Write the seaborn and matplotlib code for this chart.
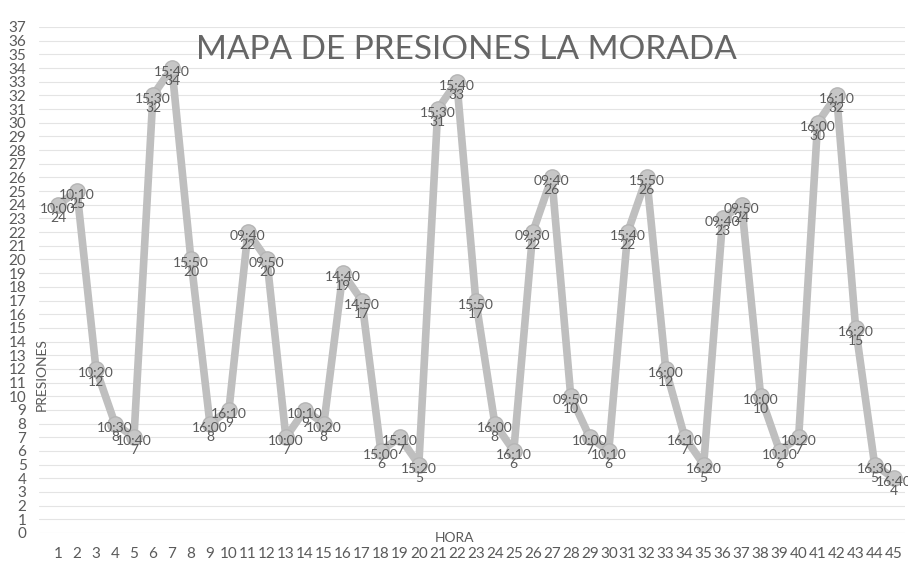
import matplotlib
matplotlib.use("Agg")
import matplotlib.pyplot as plt
import seaborn as sns
import pandas as pd

sns.set_theme(style="white")
plt.rcParams['font.family'] = ['Lato', 'DejaVu Sans']

puntos = list(range(1, 46))
horas = ["10:00", "10:10", "10:20", "10:30", "10:40", "15:30", "15:40", "15:50", "16:00", "16:10",
         "09:40", "09:50", "10:00", "10:10", "10:20", "14:40", "14:50", "15:00", "15:10", "15:20",
         "15:30", "15:40", "15:50", "16:00", "16:10", "09:30", "09:40", "09:50", "10:00", "10:10",
         "15:40", "15:50", "16:00", "16:10", "16:20", "09:40", "09:50", "10:00", "10:10", "10:20",
         "16:00", "16:10", "16:20", "16:30", "16:40"]
presiones = [24, 25, 12, 8, 7, 32, 34, 20, 8, 9,
             22, 20, 7, 9, 8, 19, 17, 6, 7, 5,
             31, 33, 17, 8, 6, 22, 26, 10, 7, 6,
             22, 26, 12, 7, 5, 23, 24, 10, 6, 7,
             30, 32, 15, 5, 4]
y_ticks = list(range(0, 38))

df = pd.DataFrame({"punto": puntos, "hora": horas, "presion": presiones})

W, H = 908, 567
fig = plt.figure(figsize=(W / 100, H / 100), dpi=100)
left, right, bottom, top = 39, 905, 533, 27
ax = fig.add_axes([left / W, 1 - bottom / H, (right - left) / W, (bottom - top) / H])

line_col = "#bfbfbf"
text_col = "#5a5a5a"

for v in y_ticks:
    ax.axhline(v, color="#e4e4e4", lw=0.8, zorder=0)

sns.lineplot(data=df, x="punto", y="presion", ax=ax, color=line_col, lw=5.5,
             marker="o", markersize=11, markerfacecolor="#c6c6c6",
             markeredgecolor="#b5b5b5", markeredgewidth=1, zorder=3)

for xi, h, p in zip(df["punto"], df["hora"], df["presion"]):
    ax.annotate(h, (xi, p), xytext=(0, -4), textcoords="offset pixels",
                ha="center", va="center", fontsize=10, color=text_col, zorder=5)
    ax.annotate(str(p), (xi, p), xytext=(0, -13), textcoords="offset pixels",
                ha="center", va="center", fontsize=10, color=text_col, zorder=5)

ax.set_xlim(0, 45.6)
ax.set_ylim(0, 37)
ax.set_yticks(y_ticks)
ax.set_yticklabels([str(v) for v in y_ticks], fontsize=11, color=text_col)
ax.set_xticks(puntos)
ax.set_xticklabels([str(v) for v in puntos], fontsize=11, color=text_col)
ax.tick_params(axis="y", length=0, pad=9)
ax.tick_params(axis="x", length=0, pad=10)
ax.set_xlabel("")
ax.set_ylabel("")
for s in ax.spines.values():
    s.set_visible(False)

fig.text(42 / W, 1 - 375 / H, "PRESIONES", rotation=90, ha="center", va="center",
         fontsize=10, color=text_col)
fig.text(455 / W, 1 - 538 / H, "HORA", ha="center", va="center",
         fontsize=10, color=text_col)
fig.text(466 / W, 1 - 50 / H, "MAPA DE PRESIONES LA MORADA", ha="center", va="center",
         fontsize=24, color="#666666", zorder=10)

fig.savefig("out.png", dpi=100, facecolor="white")
